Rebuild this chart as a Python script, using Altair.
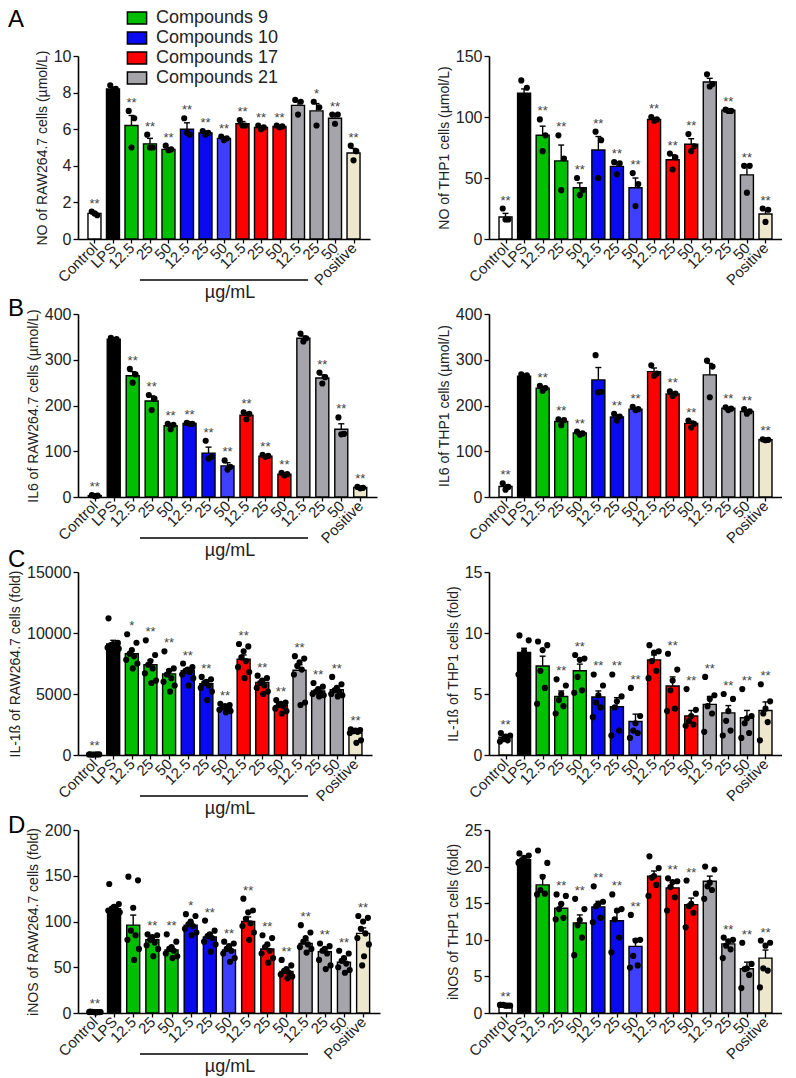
import json
import altair as alt
import pandas as pd

# ---------------- categories / colours ----------------
CATS = ["Control", "LPS", "12.5", "25", "50", "12.5", "25", "50",
        "12.5", "25", "50", "12.5", "25", "50", "Positive"]
GROUPS = (["Control", "LPS"] + ["Compounds 9"] * 3 +
          ["Compounds 10", "Compounds 10", "Compounds 10 (50)"] +
          ["Compounds 17"] * 3 + ["Compounds 21"] * 3 + ["Positive"])
GROUP_DOMAIN = ["Control", "LPS", "Compounds 9", "Compounds 10", "Compounds 10 (50)",
                "Compounds 17", "Compounds 21", "Positive"]
GROUP_COLORS = ["#FFFFFF", "#000000", "#00BE00", "#0A0AF0", "#3F3FFF",
                "#FF0000", "#A4A4AA", "#EDE8CD"]
LEGEND_ITEMS = ["Compounds 9", "Compounds 10", "Compounds 17", "Compounds 21"]

# ---------------- A: NO ----------------
NO_RAW_TITLE = "NO of RAW264.7 cells (µmol/L)"
NO_RAW_TICKS = [0, 2, 4, 6, 8, 10]
NO_RAW_MEAN = [1.4, 8.2, 6.2, 5.2, 4.9, 6.0, 5.8, 5.5, 6.3, 6.1, 6.15, 7.3, 7.0, 6.6, 4.7]
NO_RAW_SEM = [0.08, 0.1, 0.55, 0.3, 0.08, 0.35, 0.1, 0.06, 0.12, 0.08, 0.05, 0.25, 0.4, 0.18, 0.25]
NO_RAW_DOTS = [[1.5, 1.3, 1.4], [8.4, 8.2, 8.1], [7.0, 6.6, 5.0], [5.7, 5.0, 5.0],
               [5.1, 4.9, 4.85], [6.6, 5.7, 5.8], [5.9, 5.8, 5.7], [5.6, 5.5, 5.4],
               [6.5, 6.2, 6.2], [6.2, 6.1, 6.0], [6.2, 6.15, 6.1], [7.6, 7.5, 6.8],
               [7.5, 7.2, 6.2], [6.8, 6.8, 6.3], [5.1, 4.8, 4.3]]
NO_RAW_STARS = ["**", "", "**", "**", "**", "**", "**", "**", "**", "**", "**", "", "*", "**", "**"]

NO_THP_TITLE = "NO of THP1 cells (µmol/L)"
NO_THP_TICKS = [0, 50, 100, 150]
NO_THP_MEAN = [18, 119.5, 85, 64, 42, 73, 59.5, 42, 98, 65, 77.7, 128.7, 105.5, 52.6, 20.5]
NO_THP_SEM = [3, 3.5, 7.5, 13, 4, 11, 3, 8, 1, 4, 4.5, 3, 0.5, 7, 3.5]
NO_THP_DOTS = [[25, 16, 16], [130, 124, 105], [98, 85, 72], [85, 66, 40], [50, 40, 36],
               [88, 81, 50], [63, 62, 53], [54, 45, 27], [100, 98, 97], [70, 67, 57],
               [86, 76, 72], [135, 127, 125], [106, 105, 105], [60, 60, 38], [25, 24, 14]]
NO_THP_STARS = ["**", "", "**", "**", "**", "**", "**", "**", "**", "**", "**", "", "**", "**", "**"]

# ---------------- B: IL6 ----------------
IL6_RAW_TITLE = "IL6 of RAW264.7 cells (µmol/L)"
IL6_RAW_TICKS = [0, 100, 200, 300, 400]
IL6_RAW_MEAN = [3, 345, 265, 210, 156, 161, 96, 68, 179, 89, 50, 347, 260, 148, 21]
IL6_RAW_SEM = [1, 2, 9, 11, 4, 1, 13, 7, 5, 1.5, 2, 5, 7, 12, 1]
IL6_RAW_DOTS = [[4, 3, 2], [348, 345, 342], [280, 268, 250], [223, 215, 190],
                [160, 158, 148], [162, 160, 160], [123, 88, 84], [80, 66, 60],
                [185, 182, 170], [92, 90, 88], [53, 50, 47], [357, 347, 340],
                [272, 262, 248], [174, 138, 137], [22, 20, 19]]
IL6_RAW_STARS = ["**", "", "**", "**", "**", "**", "**", "**", "**", "**", "**", "", "**", "**", "**"]

IL6_THP_TITLE = "IL6 of THP1 cells (µmol/L)"
IL6_THP_TICKS = [0, 100, 200, 300, 400]
IL6_THP_MEAN = [23, 264, 238, 165, 140, 256, 175, 192, 274, 225, 161, 267, 194, 187, 125]
IL6_THP_SEM = [4, 2, 3.5, 4, 2.5, 27, 5, 2.5, 8, 3, 5, 25, 2, 3, 1]
IL6_THP_DOTS = [[30, 22, 16], [268, 266, 263], [243, 238, 232], [170, 168, 157],
                [143, 139, 136], [310, 230, 229], [182, 176, 167], [197, 192, 190],
                [288, 270, 265], [231, 226, 221], [167, 160, 152], [298, 285, 218],
                [196, 193, 190], [192, 187, 182], [126, 125, 124]]
IL6_THP_STARS = ["**", "", "**", "**", "**", "", "**", "**", "", "**", "**", "", "**", "**", "**"]

# ---------------- C: IL-1ß ----------------
IL1B_RAW_TITLE = "IL-1ß of RAW264.7 cells (fold)"
IL1B_RAW_TICKS = [0, 5000, 10000, 15000]
IL1B_RAW_MEAN = [50, 9100, 8300, 7400, 6650, 6900, 5850, 3880, 7850, 5950, 4050, 6950, 5250, 5350, 1800]
IL1B_RAW_SEM = [10, 300, 250, 380, 350, 200, 220, 80, 350, 200, 120, 450, 120, 150, 150]
IL1B_RAW_DOTS = [[60, 50, 40, 30, 50, 40],
                 [11200, 9200, 9100, 9000, 8900, 8800, 8700, 8600],
                 [9900, 9200, 8600, 8300, 8100, 7800, 7500, 7100],
                 [9400, 8200, 7700, 7400, 7100, 6700, 6100, 5900],
                 [8500, 7100, 6900, 6600, 6300, 6000, 5700, 5200],
                 [7500, 7200, 7000, 6900, 6800, 6600, 6300, 5700],
                 [6400, 6200, 6000, 5900, 5700, 5500, 5200, 4500],
                 [4200, 4100, 4000, 3900, 3800, 3700, 3600, 3500],
                 [9100, 8900, 8500, 8000, 7700, 7200, 6800, 6300],
                 [6500, 6300, 6100, 5900, 5700, 5500, 5200, 5000],
                 [4500, 4300, 4200, 4100, 4000, 3800, 3600, 3400],
                 [8100, 7900, 7600, 7300, 7000, 6600, 4300, 4100],
                 [5900, 5600, 5400, 5200, 5100, 5000, 4900, 4800],
                 [6400, 5800, 5500, 5300, 5200, 5000, 4900, 4800],
                 [2100, 2050, 2000, 1950, 1900, 1800, 1200, 1000]]
IL1B_RAW_STARS = ["**", "", "*", "**", "**", "**", "**", "**", "**", "**", "**", "**", "**", "**", "**"]

IL1B_THP_TITLE = "IL-1ß of THP1 cells (fold)"
IL1B_THP_TICKS = [0, 5, 10, 15]
IL1B_THP_MEAN = [1.45, 8.4, 7.3, 4.8, 6.9, 4.75, 3.95, 2.75, 7.8, 5.65, 3.2, 4.15, 3.45, 3.05, 3.65]
IL1B_THP_SEM = [0.15, 0.35, 0.8, 0.45, 0.55, 0.5, 0.75, 0.6, 0.4, 0.75, 0.45, 0.65, 0.6, 0.6, 0.7]
IL1B_THP_DOTS = [[1.8, 1.6, 1.5, 1.3, 1.2, 1.1], [9.8, 9.4, 8.5, 8.2, 7.9, 6.6],
                 [9.3, 9.0, 8.6, 6.9, 5.5, 4.2], [6.2, 5.7, 5.0, 4.5, 4.0, 3.4],
                 [8.2, 7.9, 7.8, 6.4, 5.3, 5.1], [6.6, 5.7, 4.9, 4.3, 3.9, 3.1],
                 [6.6, 4.8, 4.4, 3.9, 2.0, 1.6], [5.5, 3.2, 2.6, 2.0, 1.8, 1.4],
                 [9.0, 8.5, 8.4, 7.7, 6.9, 6.3], [8.3, 7.0, 6.1, 5.3, 3.8, 3.6],
                 [5.4, 3.7, 3.2, 2.8, 2.5, 2.4], [6.4, 4.9, 4.6, 4.0, 3.4, 1.9],
                 [5.0, 4.6, 3.6, 2.8, 2.0, 1.6], [5.4, 3.2, 3.0, 2.6, 1.8, 1.4],
                 [5.8, 4.4, 3.8, 3.4, 2.7, 1.2]]
IL1B_THP_STARS = ["**", "", "", "**", "**", "**", "**", "**", "", "**", "**", "**", "**", "**", "**"]

# ---------------- D: iNOS ----------------
INOS_RAW_TITLE = "iNOS of RAW264.7 cells (fold)"
INOS_RAW_TICKS = [0, 50, 100, 150, 200]
INOS_RAW_MEAN = [1, 114, 96, 80, 69, 96, 83, 69, 100, 70, 45.5, 76, 67, 55.5, 87]
INOS_RAW_SEM = [0.3, 3, 11, 3, 3, 3, 4, 3, 5, 4, 2.5, 3.5, 4, 3, 6]
INOS_RAW_DOTS = [[1.5, 1.0, 0.8, 1.2, 0.9, 1.0, 1.1, 0.7],
                 [141, 119, 116, 114, 113, 112, 110, 108],
                 [149, 145, 115, 90, 85, 80, 70, 58],
                 [86, 85, 83, 80, 77, 74, 70, 62],
                 [86, 78, 72, 70, 68, 65, 62, 60],
                 [108, 106, 100, 97, 95, 92, 88, 85],
                 [101, 90, 86, 84, 82, 78, 75, 67],
                 [78, 76, 73, 70, 68, 65, 60, 56],
                 [125, 112, 110, 103, 98, 95, 88, 80],
                 [85, 82, 75, 72, 68, 65, 60, 55],
                 [58, 52, 48, 46, 44, 42, 40, 38],
                 [96, 88, 82, 78, 75, 72, 70, 66],
                 [76, 73, 70, 68, 65, 58, 52, 48],
                 [68, 65, 60, 57, 54, 50, 47, 44],
                 [106, 104, 100, 92, 87, 82, 75, 62, 52]]
INOS_RAW_STARS = ["**", "", "", "**", "**", "*", "**", "**", "**", "**", "**", "**", "**", "**", "**"]

INOS_THP_TITLE = "iNOS of THP1 cells (fold)"
INOS_THP_TICKS = [0, 5, 10, 15, 20, 25]
INOS_THP_MEAN = [1.05, 20.95, 17.5, 14.3, 12.3, 14.5, 12.6, 9.1, 18.7, 17.1, 14.8, 18.0, 9.45, 6.05, 7.5]
INOS_THP_SEM = [0.05, 0.25, 1.3, 0.6, 1.1, 0.75, 1.2, 1.0, 0.7, 0.7, 0.9, 0.7, 0.4, 0.9, 1.1]
INOS_THP_DOTS = [[1.1, 1.0, 1.0, 1.1, 1.0, 1.1], [21.8, 21.5, 21.2, 20.9, 20.7, 20.5],
                 [22.2, 20.5, 18.6, 16.8, 16.3, 16.2], [16.2, 16.0, 14.9, 14.2, 13.0, 12.8],
                 [15.6, 14.2, 12.7, 12.0, 10.3, 7.9], [17.3, 15.2, 14.9, 14.6, 13.0, 12.4],
                 [16.2, 14.2, 14.0, 12.8, 10.3, 8.3], [13.4, 10.0, 9.9, 7.8, 6.5, 6.2],
                 [21.4, 19.8, 18.7, 18.5, 17.5, 16.0], [18.4, 18.0, 17.9, 17.2, 15.8, 14.0],
                 [18.1, 16.3, 14.9, 14.6, 13.7, 11.7], [20.0, 19.6, 17.8, 17.3, 16.8, 15.6],
                 [10.3, 10.0, 9.8, 9.2, 8.7, 7.5], [9.6, 6.7, 6.1, 6.0, 5.2, 3.4],
                 [9.9, 9.6, 9.2, 6.1, 5.8, 3.5]]
INOS_THP_STARS = ["**", "", "", "**", "**", "**", "**", "**", "", "**", "**", "", "**", "**", "**"]

# ---------------- layout / style ----------------
H = 183
PL = 78          # page x of the left plots' left edge
FONT = "Liberation Sans"
OFF3 = [-0.15, 0.15, 0.0]
OFFN = [-0.25, 0.25, 0.0, -0.12, 0.12, -0.3, 0.3, 0.05, -0.05]
LABEL_EXPR = json.dumps(CATS) + "[datum.value]"


def panel(title, ticks, means, sems, dots, stars, width,
          letter=None, letter_y=-4, ugml=False, legend=False):
    top = [m + s for m, s in zip(means, sems)]
    bars = pd.DataFrame({
        "i": list(range(15)), "grp": GROUPS, "mean": means, "top": top,
        "xl": [i - 0.16 for i in range(15)], "xr": [i + 0.16 for i in range(15)],
        "star": stars, "stary": [max(t, max(d)) for t, d in zip(top, dots)],
    })
    rows = []
    for i, d in enumerate(dots):
        pat = OFF3 if len(d) <= 3 else OFFN
        for k, v in enumerate(d):
            rows.append({"i": i, "xd": i + pat[k % len(pat)], "v": v})
    dots_df = pd.DataFrame(rows)

    xscale = alt.Scale(domain=[-0.62, 14.62], nice=False, zero=False)
    yscale = alt.Scale(domain=[0, ticks[-1]], nice=False, zero=True)
    xaxis = alt.Axis(values=list(range(15)), labelExpr=LABEL_EXPR, labelAngle=-45,
                     labelAlign="right", labelBaseline="middle", labelFontSize=15,
                     labelColor="#222222", tickSize=4, tickColor="black", tickWidth=1.3,
                     domainColor="black", domainWidth=1.6, labelPadding=2, title=None,
                     grid=False, labelOverlap=False, labelFlush=False)
    yaxis = alt.Axis(values=ticks, format="d", title=title, titleFontSize=14,
                     titleFontWeight="normal", titleColor="#222222", titlePadding=4,
                     labelFontSize=16, labelColor="#222222", tickSize=5, tickColor="black",
                     tickWidth=1.3, domainColor="black", domainWidth=1.6, labelPadding=2,
                     grid=False, labelFlush=False)
    if legend:
        leg = alt.Legend(values=LEGEND_ITEMS, orient="none", legendX=127 - PL + 1, legendY=-47,
                         title=None, labelFontSize=18, labelColor="#222222", labelFont=FONT,
                         symbolType="M-1.6,-1L1.6,-1L1.6,1L-1.6,1Z", symbolSize=144,
                         symbolStrokeColor="black", symbolStrokeWidth=1.5,
                         rowPadding=2, labelOffset=10, padding=0, direction="vertical")
    else:
        leg = None
    color = alt.Color("grp:N", scale=alt.Scale(domain=GROUP_DOMAIN, range=GROUP_COLORS),
                      legend=leg)

    def X(f):
        return alt.X(f, scale=xscale, axis=xaxis)

    def Y(f):
        return alt.Y(f, scale=yscale, axis=yaxis)

    base = alt.Chart(bars)
    b = base.mark_bar(size=13, stroke="black", strokeWidth=1.4, orient="vertical").encode(
        x=X("i:Q"), y=Y("mean:Q"), color=color)
    err = base.mark_rule(color="black", strokeWidth=1.4).encode(
        x=X("i:Q"), y=Y("mean:Q"), y2="top:Q")
    cap = base.mark_rule(color="black", strokeWidth=1.4).encode(
        x=X("xl:Q"), x2="xr:Q", y=Y("top:Q"))
    pts = alt.Chart(dots_df).mark_circle(size=38, color="black", opacity=1).encode(
        x=X("xd:Q"), y=Y("v:Q"))
    st = base.mark_text(fontSize=13, color="#444444", baseline="alphabetic", dy=-4,
                        font=FONT).encode(x=X("i:Q"), y=Y("stary:Q"), text="star:N")
    layers = [b, err, cap, pts, st]

    if letter:
        layers.append(alt.Chart(pd.DataFrame({"t": [letter]})).mark_text(
            fontSize=24, align="left", baseline="middle", color="black", font=FONT).encode(
            text="t:N", x=alt.value(8 - PL), y=alt.value(letter_y)))
    if ugml:
        layers.append(alt.Chart(pd.DataFrame({"a": [0]})).mark_rule(
            color="black", strokeWidth=1.5).encode(
            x=alt.value(140 - PL), x2=alt.value(308 - PL), y=alt.value(H + 41)))
        layers.append(alt.Chart(pd.DataFrame({"t": ["µg/mL"]})).mark_text(
            fontSize=18, align="center", baseline="middle", color="#222222", font=FONT).encode(
            text="t:N", x=alt.value(230 - PL), y=alt.value(H + 54)))
    return alt.layer(*layers).properties(width=width, height=H)


A_left = panel(NO_RAW_TITLE, NO_RAW_TICKS, NO_RAW_MEAN, NO_RAW_SEM, NO_RAW_DOTS, NO_RAW_STARS,
               292, letter="A", letter_y=-36, ugml=True, legend=True)
A_right = panel(NO_THP_TITLE, NO_THP_TICKS, NO_THP_MEAN, NO_THP_SEM, NO_THP_DOTS, NO_THP_STARS,
                293)
B_left = panel(IL6_RAW_TITLE, IL6_RAW_TICKS, IL6_RAW_MEAN, IL6_RAW_SEM, IL6_RAW_DOTS, IL6_RAW_STARS,
               299, letter="B", letter_y=-5, ugml=True)
B_right = panel(IL6_THP_TITLE, IL6_THP_TICKS, IL6_THP_MEAN, IL6_THP_SEM, IL6_THP_DOTS, IL6_THP_STARS,
                293)
C_left = panel(IL1B_RAW_TITLE, IL1B_RAW_TICKS, IL1B_RAW_MEAN, IL1B_RAW_SEM, IL1B_RAW_DOTS,
               IL1B_RAW_STARS, 294, letter="C", letter_y=-12, ugml=True)
C_right = panel(IL1B_THP_TITLE, IL1B_THP_TICKS, IL1B_THP_MEAN, IL1B_THP_SEM, IL1B_THP_DOTS,
                IL1B_THP_STARS, 293)
D_left = panel(INOS_RAW_TITLE, INOS_RAW_TICKS, INOS_RAW_MEAN, INOS_RAW_SEM, INOS_RAW_DOTS,
               INOS_RAW_STARS, 302, letter="D", letter_y=-4, ugml=True)
D_right = panel(INOS_THP_TITLE, INOS_THP_TICKS, INOS_THP_MEAN, INOS_THP_SEM, INOS_THP_DOTS,
                INOS_THP_STARS, 293)

chart = alt.concat(
    A_left, A_right, B_left, B_right, C_left, C_right, D_left, D_right,
    columns=2, spacing={"row": 75, "column": 109}, bounds="flush",
).resolve_scale(color="independent", x="independent", y="independent").properties(
    padding=0
).configure(font=FONT).configure_view(stroke=None)

chart.save("out.html", embed_options={"renderer": "svg", "actions": False})
